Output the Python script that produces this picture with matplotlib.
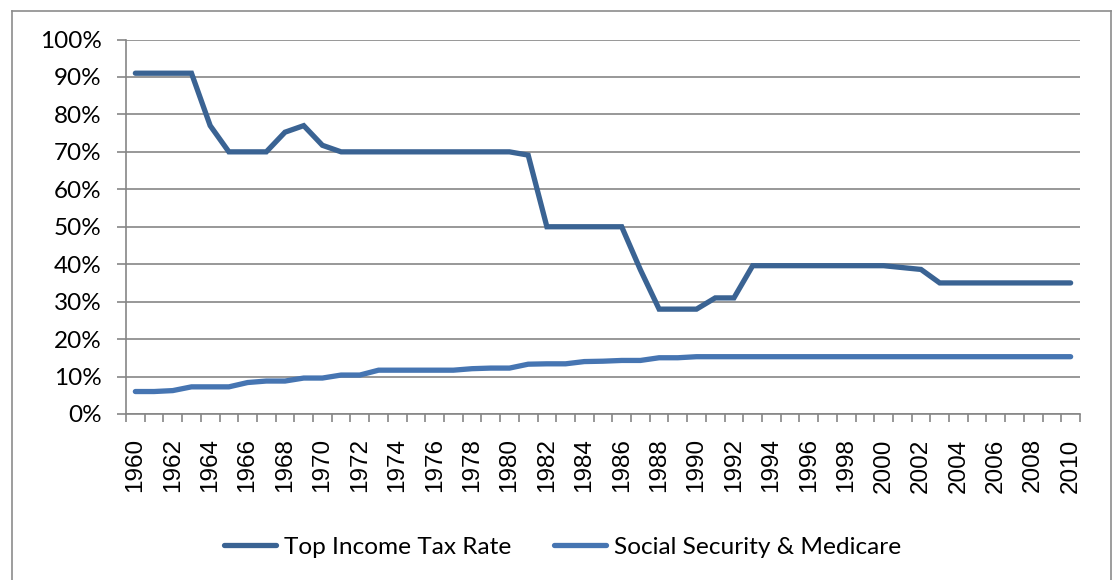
import matplotlib
matplotlib.use("Agg")
import matplotlib.pyplot as plt
from matplotlib.lines import Line2D
from matplotlib.ticker import FixedLocator, FuncFormatter

years = list(range(1960, 2011))
top_income_tax = [91, 91, 91, 91, 77, 70, 70, 70, 75.25, 77,
                  71.75, 70, 70, 70, 70, 70, 70, 70, 70, 70,
                  70, 69.13, 50, 50, 50, 50, 50, 38.5, 28, 28,
                  28, 31, 31, 39.6, 39.6, 39.6, 39.6, 39.6, 39.6, 39.6,
                  39.6, 39.1, 38.6, 35, 35, 35, 35, 35, 35, 35, 35]
social_security_medicare = [6.0, 6.0, 6.25, 7.25, 7.25, 7.25, 8.4, 8.8, 8.8, 9.6,
                            9.6, 10.4, 10.4, 11.7, 11.7, 11.7, 11.7, 11.7, 12.1, 12.26,
                            12.26, 13.3, 13.4, 13.4, 14.0, 14.1, 14.3, 14.3, 15.02, 15.02,
                            15.3, 15.3, 15.3, 15.3, 15.3, 15.3, 15.3, 15.3, 15.3, 15.3,
                            15.3, 15.3, 15.3, 15.3, 15.3, 15.3, 15.3, 15.3, 15.3, 15.3, 15.3]
series_names = ["Top Income Tax Rate", "Social Security & Medicare"]
y_ticks = [0, 10, 20, 30, 40, 50, 60, 70, 80, 90, 100]

W, H = 1114, 580
fig = plt.figure(figsize=(W / 100, H / 100), dpi=100)

# outer chart border (bottom is cut off in the reference)
border_col = "#8c8c8c"
x0, x1, yt = 11.5 / W, 1110.5 / W, 1 - 10.5 / H
fig.add_artist(Line2D([x0, x0], [0, yt], color=border_col, lw=1.2, transform=fig.transFigure))
fig.add_artist(Line2D([x0, x1], [yt, yt], color=border_col, lw=1.2, transform=fig.transFigure))
fig.add_artist(Line2D([x1, x1], [yt, 0], color=border_col, lw=1.2, transform=fig.transFigure))

left, right, top, bottom = 126, 1080, 39.5, 414
ax = fig.add_axes([left / W, 1 - bottom / H, (right - left) / W, (bottom - top) / H])

xs = list(range(len(years)))
c1, c2 = "#3A6393", "#4675B2"
lw = 3.8
ax.plot(xs, top_income_tax, color=c1, lw=lw, solid_capstyle="round", solid_joinstyle="miter", zorder=3)
ax.plot(xs, social_security_medicare, color=c2, lw=lw, solid_capstyle="round", solid_joinstyle="miter", zorder=3)

ax.set_xlim(-0.5, len(years) - 0.5)
ax.set_ylim(0, 100)

grid_col = "#868686"
ax.set_yticks(y_ticks)
ax.yaxis.set_major_formatter(FuncFormatter(lambda v, p: f"{int(v)}%"))
ax.yaxis.grid(True, color=grid_col, lw=1.2)
ax.set_axisbelow(True)

ax.xaxis.set_major_locator(FixedLocator(xs[::2]))
ax.set_xticklabels([str(y) for y in years[::2]], rotation=90,
                   fontfamily="Liberation Sans", fontsize=17.5)
ax.xaxis.set_minor_locator(FixedLocator([i - 0.5 for i in range(len(years) + 1)]))
ax.tick_params(axis="x", which="major", length=0, pad=17.5)
ax.tick_params(axis="x", which="minor", length=5.5, width=1.2, color=grid_col, direction="out")
ax.tick_params(axis="y", which="major", length=6.5, width=1.2, color=grid_col, pad=11)
for lab in ax.get_yticklabels():
    lab.set_fontfamily("Lato")
    lab.set_fontsize(17.5)

for s in ["top", "right"]:
    ax.spines[s].set_visible(False)
for s in ["left", "bottom"]:
    ax.spines[s].set_color(grid_col)
    ax.spines[s].set_linewidth(1.2)

handles = [Line2D([], [], color=c1, lw=lw, solid_capstyle="round"),
           Line2D([], [], color=c2, lw=lw, solid_capstyle="round")]
fig.legend(handles, series_names, loc="center", bbox_to_anchor=(563 / W, 1 - 547 / H),
           ncol=2, frameon=False, prop={"family": "Lato", "size": 17.6},
           handlelength=2.1, handletextpad=0.35, columnspacing=1.75)

fig.savefig("out.png", dpi=100)
